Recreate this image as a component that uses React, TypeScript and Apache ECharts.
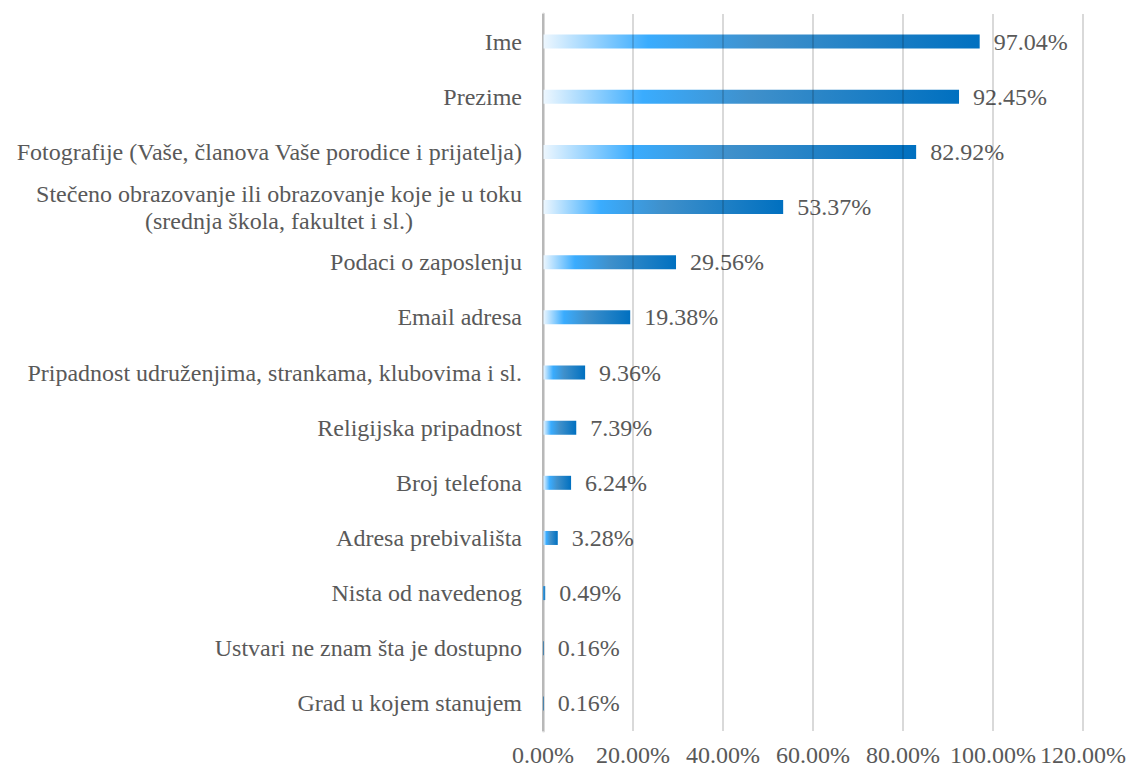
import React, { useEffect, useRef } from "react";
import * as echarts from "echarts";

const categories: string[] = [
  "Ime",
  "Prezime",
  "Fotografije (Vaše, članova Vaše porodice i prijatelja)",
  "Stečeno obrazovanje ili obrazovanje koje je u toku\n(srednja škola, fakultet i sl.)",
  "Podaci o zaposlenju",
  "Email adresa",
  "Pripadnost udruženjima, strankama, klubovima i sl.",
  "Religijska pripadnost",
  "Broj telefona",
  "Adresa prebivališta",
  "Nista od navedenog",
  "Ustvari ne znam šta je dostupno",
  "Grad u kojem stanujem",
];

const values: number[] = [97.04, 92.45, 82.92, 53.37, 29.56, 19.38, 9.36, 7.39, 6.24, 3.28, 0.49, 0.16, 0.16];

const xTicks = { min: 0, max: 120, interval: 20 };

const FONT = "Liberation Serif";
const FS = 24;

export default function App() {
  const ref = useRef<HTMLDivElement>(null);
  useEffect(() => {
    if (!ref.current) return;
    const chart = echarts.init(ref.current, null, { renderer: "svg" });
    const gradient = new echarts.graphic.LinearGradient(0, 0, 1, 0, [
      { offset: 0, color: "#eef7fe" },
      { offset: 0.24, color: "#3aacfe" },
      { offset: 0.5, color: "#3f90cb" },
      { offset: 1, color: "#0070c0" },
    ]);
    chart.setOption({
      animation: false,
      backgroundColor: "#ffffff",
      grid: { left: 543, right: 42, top: 14, bottom: 34, containLabel: false },
      xAxis: {
        type: "value",
        min: xTicks.min,
        max: xTicks.max,
        interval: xTicks.interval,
        z: 3,
        axisLine: { show: false },
        axisTick: { show: false },
        splitLine: { show: true, lineStyle: { color: "rgba(0,0,0,0.15)", width: 2 } },
        axisLabel: {
          formatter: (v: number) => v.toFixed(2) + "%",
          fontFamily: FONT,
          fontSize: FS,
          color: "#595959",
          margin: 12,
        },
      },
      yAxis: {
        type: "category",
        inverse: true,
        data: categories,
        axisTick: { show: false },
        axisLine: { show: true, lineStyle: { color: "#d9d9d9", width: 3 } },
        axisLabel: {
          fontFamily: FONT,
          fontSize: FS,
          color: "#595959",
          margin: 21,
          lineHeight: 27,
          formatter: (v: string) => {
            if (v.indexOf("\n") >= 0) {
              const parts = v.split("\n");
              return "{a|" + parts[0] + "}\n{a|" + parts[1] + "}";
            }
            return v;
          },
          rich: {
            a: {
              fontFamily: FONT,
              fontSize: FS,
              color: "#595959",
              lineHeight: 27,
              width: 486,
              align: "center",
            },
          },
        },
      },
      series: [
        {
          type: "bar",
          data: values,
          barWidth: 14,
          itemStyle: { color: gradient },
          label: {
            show: true,
            position: "right",
            distance: 14,
            formatter: (p: any) => Number(p.value).toFixed(2) + "%",
            fontFamily: FONT,
            fontSize: FS,
            color: "#595959",
          },
        },
      ],
    });
    return () => chart.dispose();
  }, []);
  return (
    <div
      ref={ref}
      style={{ position: "fixed", left: 0, top: 0, width: 1129, height: 767, background: "#fff" }}
    />
  );
}
